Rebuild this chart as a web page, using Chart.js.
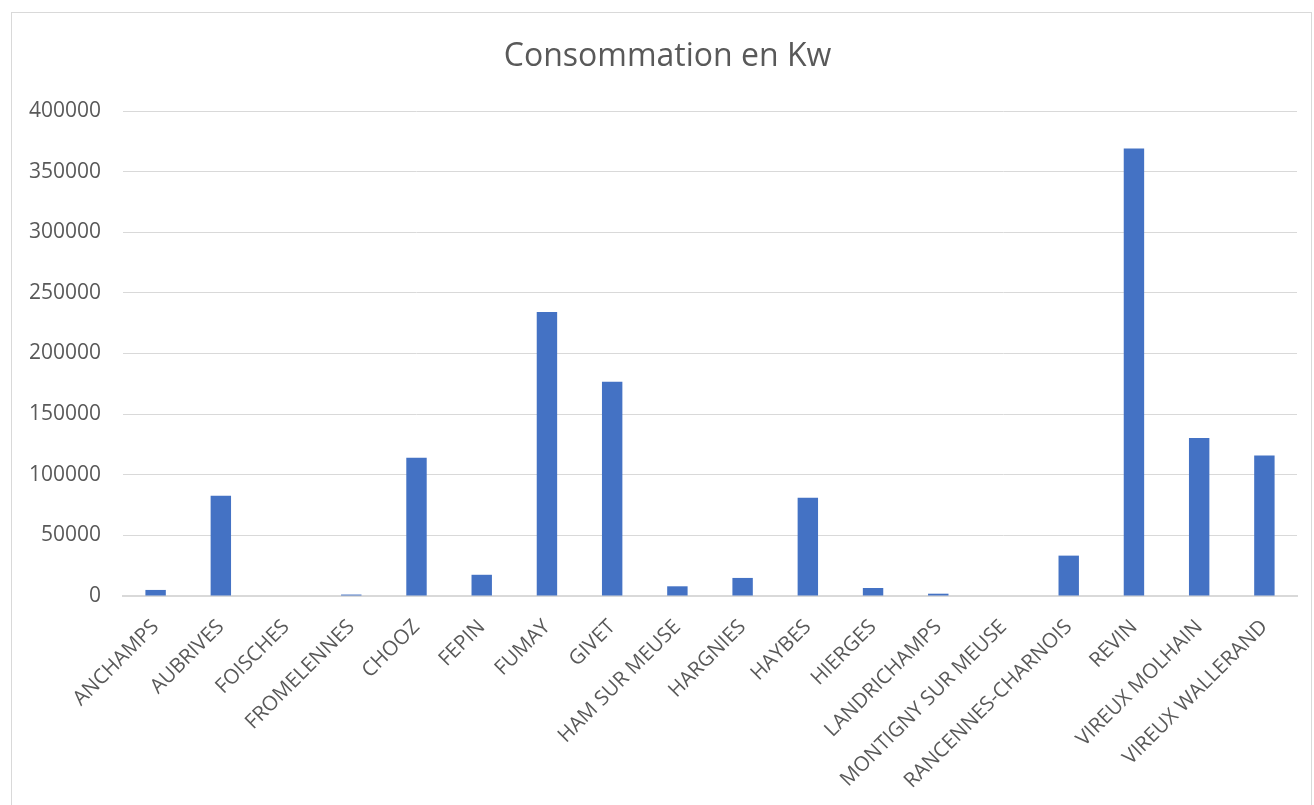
<!DOCTYPE html>
<html>
<head>
<meta charset="utf-8">
<script src="https://cdn.jsdelivr.net/npm/chart.js@4"></script>
<style>
    body { margin: 0; background: #fff; }
    #wrap { position: relative; width: 1314px; height: 805px; }
    #frame { position: absolute; left: 11px; top: 12px; width: 1301px; height: 800px; border: 1px solid #d9d9d9; box-sizing: border-box; }
    #consoChart { position: absolute; left: 0; top: 0; }
</style>
</head>
<body>
<div id="wrap">
    <div id="frame"></div>
    <canvas id="consoChart" width="1314" height="805"></canvas>
</div>
<script>
// communes
var communes = ["ANCHAMPS", "AUBRIVES", "FOISCHES", "FROMELENNES", "CHOOZ", "FEPIN", "FUMAY", "GIVET",
    "HAM SUR MEUSE", "HARGNIES", "HAYBES", "HIERGES", "LANDRICHAMPS", "MONTIGNY SUR MEUSE",
    "RANCENNES-CHARNOIS", "REVIN", "VIREUX MOLHAIN", "VIREUX WALLERAND"];

// consommation en Kw
var conso = [5000, 82600, 0, 1200, 114000, 17500, 234300, 176700,
    8000, 14900, 81000, 6600, 1900, 0,
    33300, 369000, 130400, 115900];

var yMax = 400000;
var yStep = 50000;

var textColor = '#595959';
var gridColor = '#d9d9d9';

// title is centred on the whole frame in the original, not on the padded area
var shiftTitle = {
    id: 'shiftTitle',
    afterLayout: function (chart) {
        if (chart.titleBlock) { chart.titleBlock.left += 18; }
    }
};

var ctx = document.getElementById('consoChart');

var consoChart = new Chart(ctx, {
    type: 'bar',
    data: {
        labels: communes,
        datasets: [{
            label: 'Consommation en Kw',
            data: conso,
            backgroundColor: '#4472c4',
            borderWidth: 0,
            categoryPercentage: 1,
            barPercentage: 0.313
        }]
    },
    options: {
        responsive: false,
        animation: false,
        layout: { padding: { left: 20, right: 17, top: 0, bottom: 0 } },
        plugins: {
            legend: { display: false },
            tooltip: { enabled: false },
            title: {
                display: true,
                text: 'Consommation en Kw',
                color: textColor,
                font: { family: 'Open Sans', size: 32, weight: 'normal' },
                padding: { top: 38, bottom: 34.6 }
            }
        },
        scales: {
            x: {
                grid: { display: false, drawTicks: false },
                border: { color: gridColor, width: 2 },
                ticks: {
                    color: textColor,
                    font: { family: 'Open Sans', size: 20.5 },
                    minRotation: 45,
                    maxRotation: 45,
                    padding: 19,
                    autoSkip: false
                },
                afterFit: function (scale) { scale.height = 209; }
            },
            y: {
                min: 0,
                max: yMax,
                grid: { color: gridColor, drawTicks: false },
                border: { display: false },
                ticks: {
                    stepSize: yStep,
                    color: textColor,
                    font: { family: 'Open Sans', size: 21 },
                    padding: 22,
                    callback: function (value) { return String(value); }
                },
                afterFit: function (scale) { scale.width = 103; }
            }
        }
    },
    plugins: [shiftTitle]
});
</script>
</body>
</html>
